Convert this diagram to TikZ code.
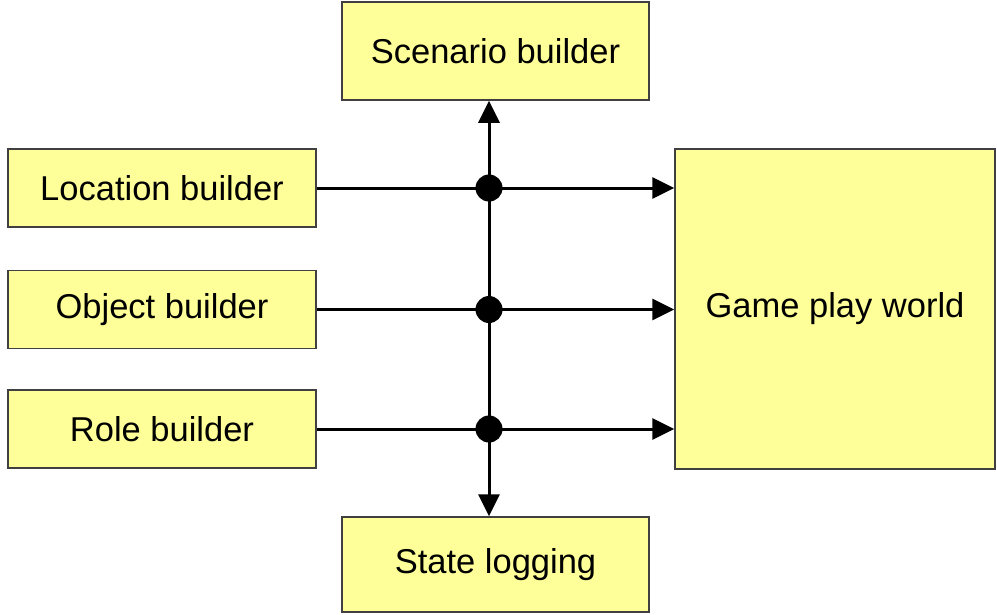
\documentclass[tikz,border=0pt]{standalone}
\usepackage{fontspec}
\setmainfont{Liberation Sans}
\usetikzlibrary{arrows.meta}
\definecolor{boxfill}{HTML}{FFFF99}
\definecolor{boxline}{HTML}{404040}
\begin{document}
\begin{tikzpicture}[x=1pt,y=-1pt,
  blk/.style={draw=boxline,line width=1.5pt,fill=boxfill,inner sep=0pt,
    font=\fontsize{34.5}{41}\selectfont},
  arr/.style={line width=3pt,-{Triangle[length=22pt,width=21pt]}},
  wire/.style={line width=3pt},
  dot/.style={circle,fill=black,minimum size=27pt,inner sep=0pt}]
\useasboundingbox (0,0) rectangle (997,614);
\node[blk,minimum width=307pt,minimum height=98pt] (scen) at (495.5,51) {Scenario builder};
\node[blk,minimum width=308pt,minimum height=78pt] (loc) at (162,188) {Location builder};
\node[blk,minimum width=308pt,minimum height=78pt] (obj) at (162,309.5) {Object builder};
\node[blk,minimum width=308pt,minimum height=78pt] (role) at (162,429) {Role builder};
\node[blk,minimum width=320pt,minimum height=320pt] (game) at (835,309) {Game play world};
\node[blk,minimum width=307pt,minimum height=95pt] (state) at (495.5,564.5) {State logging};
\coordinate (bus) at (489,0);
\node[dot] (d1) at (loc.east -| bus) {};
\node[dot] (d2) at (obj.east -| bus) {};
\node[dot] (d3) at (role.east -| bus) {};
\draw[arr] (loc.east) -- (loc.east -| game.west);
\draw[arr] (obj.east) -- (obj.east -| game.west);
\draw[arr] (role.east) -- (role.east -| game.west);
\draw[wire] (d1.center) -- (d3.center);
\draw[arr] (d1.center) -- (d1.center |- scen.south);
\draw[arr] (d3.center) -- (d3.center |- state.north);
\end{tikzpicture}
\end{document}
